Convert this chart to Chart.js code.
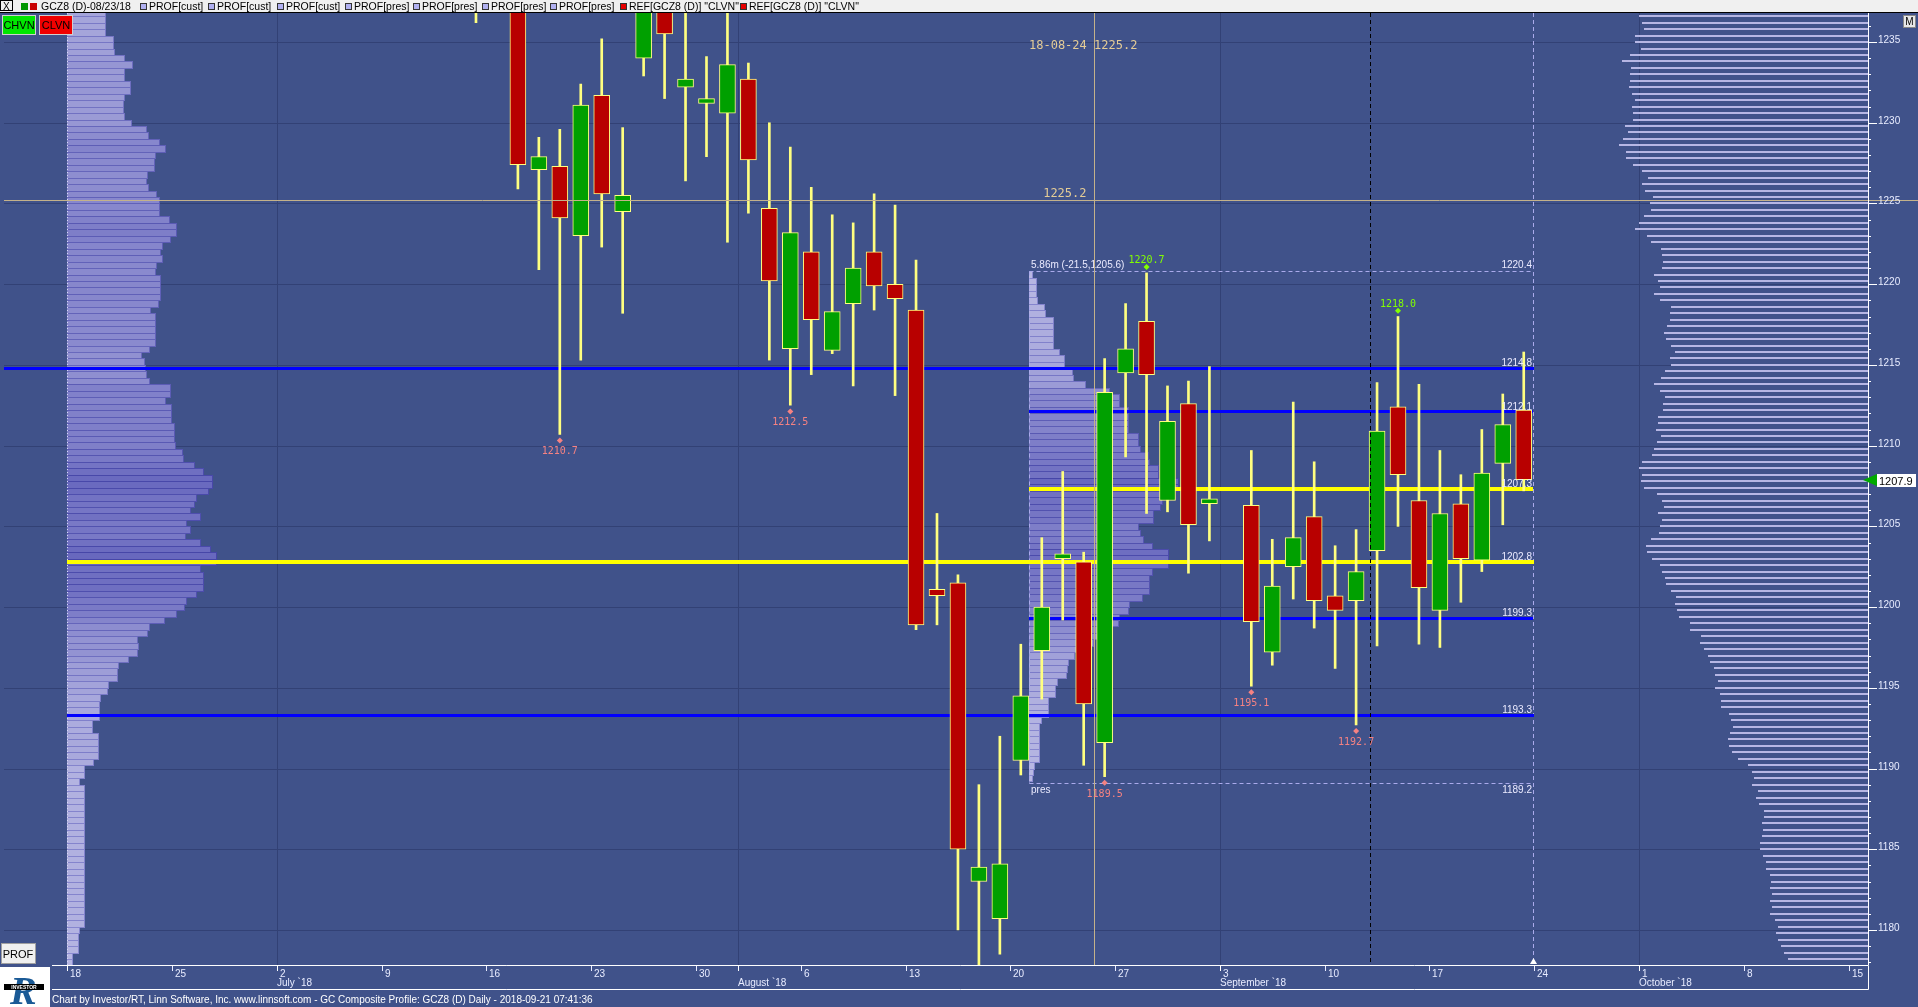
<!DOCTYPE html>
<html lang="en">
<head>
<meta charset="UTF-8">
<title>GCZ8 Composite Profile</title>
<script src="https://cdn.jsdelivr.net/npm/chart.js"></script>
<style>
  html, body { margin: 0; padding: 0; background: rgb(64, 82, 138); overflow: hidden; }
  canvas { display: block; }
</style>
</head>
<body>
<canvas id="chart" width="1918" height="1007"></canvas>
<script>
// ---- daily bars GCZ8 (D) ----
const dates = ['2018-07-13','2018-07-16','2018-07-17','2018-07-18','2018-07-19','2018-07-20',
  '2018-07-23','2018-07-24','2018-07-25','2018-07-26','2018-07-27','2018-07-30','2018-07-31',
  '2018-08-01','2018-08-02','2018-08-03','2018-08-06','2018-08-07','2018-08-08','2018-08-09',
  '2018-08-10','2018-08-13','2018-08-14','2018-08-15','2018-08-16','2018-08-17','2018-08-20',
  '2018-08-21','2018-08-22','2018-08-23','2018-08-24','2018-08-27','2018-08-28','2018-08-29',
  '2018-08-30','2018-08-31','2018-09-04','2018-09-05','2018-09-06','2018-09-07','2018-09-10',
  '2018-09-11','2018-09-12','2018-09-13','2018-09-14','2018-09-17','2018-09-18','2018-09-19',
  '2018-09-20','2018-09-21'];
const opens = [1241.5,1242.0,1240.5,1227.1,1227.3,1223.0,1231.7,1224.5,1234.0,1238.5,1232.2,1231.2,1230.6,
  1232.7,1224.7,1216.0,1222.0,1215.9,1218.8,1222.0,1220.0,1218.4,1201.1,1201.5,1183.0,1180.7,1190.5,
  1197.3,1203.0,1202.8,1191.6,1214.5,1217.7,1206.6,1212.6,1206.4,1206.3,1197.2,1202.5,1205.6,1200.7,
  1200.4,1203.5,1212.4,1206.6,1199.8,1206.4,1202.9,1208.9,1212.2];
const highs = [1243.0,1244.0,1243.5,1229.1,1229.6,1232.4,1235.2,1229.7,1239.5,1239.8,1237.5,1234.1,1237.4,
  1233.7,1230.0,1228.5,1226.0,1224.3,1223.8,1225.6,1224.9,1221.5,1205.8,1202.0,1189.0,1192.0,1197.7,
  1204.3,1208.4,1203.4,1215.4,1218.8,1220.7,1213.7,1214.0,1214.9,1209.7,1204.2,1212.7,1209.0,1203.8,
  1204.8,1213.9,1218.0,1213.8,1209.7,1208.2,1211.0,1213.2,1215.8];
const lows = [1236.2,1238.4,1225.9,1220.9,1210.7,1215.3,1222.3,1218.2,1232.9,1231.5,1226.4,1227.9,1222.6,
  1224.4,1215.3,1212.5,1214.4,1215.7,1213.7,1218.4,1213.1,1198.6,1198.9,1180.0,1177.8,1178.5,1189.6,
  1194.3,1199.2,1190.2,1189.5,1209.3,1205.8,1205.9,1202.1,1204.1,1195.1,1196.4,1200.5,1198.7,1196.2,
  1192.7,1197.6,1205.0,1197.7,1197.5,1200.3,1202.2,1205.1,1207.2];
const closes = [1240.8,1240.0,1227.4,1227.9,1224.1,1231.1,1225.6,1225.5,1238.0,1235.5,1232.7,1231.5,1233.6,
  1227.7,1220.2,1223.2,1217.8,1218.3,1221.0,1219.9,1219.1,1198.9,1200.7,1185.0,1183.9,1184.1,1194.5,
  1200.0,1203.3,1194.0,1213.3,1216.0,1214.4,1211.5,1205.1,1206.7,1199.1,1201.3,1204.3,1200.4,1199.8,
  1202.2,1210.9,1208.2,1201.2,1205.8,1203.0,1208.3,1211.3,1207.9];

// swing highs / lows that are labelled
const lowMarkDates = ['2018-07-19','2018-08-03','2018-08-24','2018-09-04','2018-09-11'];
const highMarkDates = ['2018-08-28','2018-09-13'];

// ---- composite profile (left), price rows of 0.4 from the top ----
const compTop = 1236.8;
const compVol = [38,38,38,38,46,46,47,57,65,57, 57,63,63,57,56,56,57,64,79,81,
  92,98,88,87,87,80,79,81,89,92, 92,92,102,109,109,103,95,93,95,89,
  88,93,93,93,93,91,83,88,88,88, 88,88,82,74,77,78,79,82,103,103,
  98,104,104,104,107,107,107,108,115,116, 127,136,145,145,141,129,127,123,133,119,
  123,118,133,143,149,149,133,136,136,136, 129,119,117,109,97,82,80,70,71,70,
  61,51,50,50,41,40,33,32,32,32, 25,25,31,31,31,31,26,17,17,12,
  17,17,17,17,17,17,17,17,17,17,17,17,17,17,17,17,17,17,17,17,17,17,
  12,11,11,11,5,5];

// ---- "pres" profile 2018-08-20 .. 2018-09-21 ----
const presTop = 1220.6;
const presVol = [3,7,7,7,8,15,16,24,24,24, 24,24,30,35,35,43,44,56,80,90,
  90,99,99,99,99,109,109,111,119,120, 129,129,149,149,133,133,131,124,124,109,
  111,114,123,139,139,139,123,120,120,120, 113,100,99,90,89,82,75,64,55,45,
  39,38,37,28,26,26,19,19,19,12, 10,10,10,10,10,10,5,4,3];
const presFirst = '2018-08-20';
const presLast = '2018-09-21';
const presBoxHigh = 1220.8;
const presBoxLow = 1189.1;
const presText = ['5.86m (-21.5,1205.6)', 'pres', '1220.4', '1189.2'];

// ---- right hand profile ----
const rightTop = 1236.6;
const rightVol = [229,226,224,234,233,227,239,247,238,239, 239,240,237,233,237,236,236,244,241,246,
  250,243,243,236,226,220,226,223,215,218, 217,224,229,233,221,217,207,206,205,206,
  214,210,208,214,208,197,198,198,201,204, 202,197,193,198,197,203,207,214,208,203,
  205,205,210,210,212,207,211,214,216,226, 229,226,227,224,211,206,204,210,206,208,
  209,217,222,221,216,208,206,203,202,197, 192,193,191,189,178,178,167,168,164,160,
  158,154,153,150,153,148,147,147,139,137, 135,138,140,139,136,130,120,116,114,116,
  110,112,109,104,104,106,105,106,108,108, 105,102,102,98,97,98,96,98,96,98,
  93,90,92,90,87,84,80];

// ---- reference levels ----
const levelPrices = [1214.8, 1212.1, 1207.3, 1202.8, 1199.3, 1193.3];
const levelKinds = ['CLVN', 'CLVN', 'POC', 'POC', 'CLVN', 'CLVN'];
const levelFrom = ['edge', 'pres', 'pres', 'comp', 'pres', 'comp'];

// ---- cursor ----
const cursorDate = '2018-08-24';
const cursorPrice = 1225.2;
const lastPrice = 1207.9;

// ---- axis labels ----
const weekLabels = ['18','25','2','9','16','23','30','6','13','20','27','3','10','17','24','1','8','15'];
const monthStarts = ['2018-07-02','2018-08-01','2018-09-03','2018-10-01'];
const monthLabels = ['July `18','August `18','September `18','October `18'];
const legendItems = ['PROF[cust]','PROF[cust]','PROF[cust]','PROF[pres]','PROF[pres]','PROF[pres]','PROF[pres]',
  'REF[GCZ8 (D)] "CLVN"','REF[GCZ8 (D)] "CLVN"'];
const footer = 'Chart by Investor/RT, Linn Software, Inc. www.linnsoft.com - GC Composite Profile: GCZ8 (D) Daily - 2018-09-21 07:41:36';

// trading day index (weekdays) counted from 2018-06-18
function dayIndex(s) {
  const p = s.split('-').map(Number);
  const t = Date.UTC(p[0], p[1] - 1, p[2]);
  let n = 0;
  for (let u = Date.UTC(2018, 5, 18); u < t; u += 86400000) {
    const wd = new Date(u).getUTCDay();
    if (wd !== 0 && wd !== 6) n++;
  }
  return n;
}

const BG = 'rgb(64, 82, 138)';
const GRID = 'rgb(50, 65, 117)';
const UP = 'rgb(0, 160, 0)';
const DOWN = 'rgb(184, 0, 0)';
const WICK = 'rgb(255, 255, 128)';
const ROW = 0.4;
const VOL_PER_DAY = 21;
const SANS = '"Liberation Sans", Arial, sans-serif';
const MONO = '"DejaVu Sans Mono", monospace';

const xi = dates.map(dayIndex);
const bodies = dates.map((d, k) => ({ x: xi[k], y: [opens[k], closes[k]] }));
const wicks = dates.map((d, k) => ({ x: xi[k], y: [lows[k], highs[k]] }));
const bodyColors = dates.map((d, k) => closes[k] >= opens[k] ? UP : DOWN);
const lowMarks = lowMarkDates.map(d => ({ x: dayIndex(d), y: lows[dates.indexOf(d)] - 0.38 }));
const highMarks = highMarkDates.map(d => ({ x: dayIndex(d), y: highs[dates.indexOf(d)] + 0.36 }));

const compBase = -0.524;
const presBase = dayIndex(presFirst) + 0.41;
const presEnd = dayIndex(presLast) + 0.43;

function mix(a, b, t) {
  return 'rgb(' + a.map((v, i) => Math.round(v + (b[i] - v) * t)).join(',') + ')';
}

function text(c, s, x, y, color, font, align) {
  c.fillStyle = color;
  c.font = font;
  c.textAlign = align || 'left';
  c.textBaseline = 'alphabetic';
  c.fillText(s, x, y);
}

const chrome = {
  id: 'chrome',
  beforeDraw(chart) {
    const c = chart.ctx;
    c.save();
    c.fillStyle = BG;
    c.fillRect(0, 0, chart.width, chart.height);
    c.restore();
  },
  beforeDatasetsDraw(chart) {
    const c = chart.ctx, a = chart.chartArea, X = chart.scales.x, Y = chart.scales.y;
    c.save();
    // grid
    c.fillStyle = GRID;
    for (let v = 1180; v <= 1235; v += 5) {
      c.fillRect(a.left, Math.round(Y.getPixelForValue(v)), a.right - a.left, 1);
    }
    monthStarts.forEach(d => {
      c.fillRect(Math.round(X.getPixelForValue(dayIndex(d) - 0.5)), a.top, 1, a.bottom - a.top);
    });

    // volume profiles
    function profile(vols, top, base) {
      const max = Math.max(...vols);
      const x0 = Math.round(X.getPixelForValue(base));
      vols.forEach((vol, k) => {
        const v = top - k * ROW;
        const y0 = Math.round(Y.getPixelForValue(v + ROW / 2));
        const y1 = Math.round(Y.getPixelForValue(v - ROW / 2));
        const x1 = Math.round(X.getPixelForValue(base + vol / VOL_PER_DAY));
        const t = vol / max;
        c.fillStyle = mix([140, 140, 210], [70, 70, 168], t);
        c.fillRect(x0, y0, x1 - x0 + 1, y1 - y0 + 1);
        c.fillStyle = mix([186, 186, 228], [104, 104, 190], t);
        c.fillRect(x0, y0 + 1, x1 - x0, y1 - y0 - 1);
      });
    }
    profile(compVol, compTop, compBase);
    profile(presVol, presTop, presBase);

    // right profile as thin rows
    c.fillStyle = 'rgb(182, 182, 228)';
    rightVol.forEach((vol, k) => {
      const yy = Math.round(Y.getPixelForValue(rightTop - k * ROW));
      const x1 = Math.round(X.getPixelForValue(X.max - vol / VOL_PER_DAY));
      c.fillRect(x1, yy - 1, a.right - x1, 2);
    });

    // dotted base of composite profile
    c.fillStyle = 'rgb(215, 215, 245)';
    const bx = Math.round(X.getPixelForValue(compBase));
    for (let y = a.top; y < a.bottom; y += 3) c.fillRect(bx, y, 1, 1);

    // pres box
    const px0 = Math.round(X.getPixelForValue(presBase)) + 0.5;
    const px1 = Math.round(X.getPixelForValue(presEnd)) + 0.5;
    const yTop = Math.round(Y.getPixelForValue(presBoxHigh)) + 0.5;
    const yBot = Math.round(Y.getPixelForValue(presBoxLow)) + 0.5;
    c.strokeStyle = 'rgb(170, 170, 235)';
    c.lineWidth = 1;
    c.setLineDash([4, 3]);
    c.beginPath();
    c.moveTo(px0, yTop); c.lineTo(px1, yTop);
    c.moveTo(px0, yBot); c.lineTo(px1, yBot);
    c.moveTo(px0, yTop); c.lineTo(px0, yBot);
    c.moveTo(px1, a.top); c.lineTo(px1, a.bottom);
    c.stroke();
    c.setLineDash([]);

    // levels
    levelPrices.forEach((p, k) => {
      const from = levelFrom[k] === 'edge' ? a.left : X.getPixelForValue(levelFrom[k] === 'pres' ? presBase : compBase);
      const yy = Y.getPixelForValue(p);
      const poc = levelKinds[k] === 'POC';
      const w = poc ? 4 : 3;
      c.fillStyle = poc ? 'rgb(255, 255, 0)' : 'rgb(0, 0, 255)';
      c.fillRect(Math.round(from), Math.round(yy - w / 2), Math.round(px1 - from), w);
    });
    c.restore();
  },
  afterDatasetsDraw(chart) {
    const c = chart.ctx, a = chart.chartArea, X = chart.scales.x, Y = chart.scales.y;
    const W = chart.width;
    c.save();
    const px0 = Math.round(X.getPixelForValue(presBase));
    const px1 = Math.round(X.getPixelForValue(presEnd));

    // level labels
    levelPrices.forEach(p => {
      text(c, p.toFixed(1), px1 - 1, Math.round(Y.getPixelForValue(p)) - 2, 'rgb(235, 235, 255)', '10px ' + SANS, 'right');
    });
    const yTop = Math.round(Y.getPixelForValue(presBoxHigh));
    const yBot = Math.round(Y.getPixelForValue(presBoxLow));
    text(c, presText[0], px0 + 2, yTop - 3, 'rgb(235, 235, 255)', '10px ' + SANS);
    text(c, presText[2], px1 - 1, yTop - 3, 'rgb(235, 235, 255)', '10px ' + SANS, 'right');
    text(c, presText[1], px0 + 2, yBot + 10, 'rgb(235, 235, 255)', '10px ' + SANS);
    text(c, presText[3], px1 - 1, yBot + 10, 'rgb(235, 235, 255)', '10px ' + SANS, 'right');

    // cursor cross hair
    const cx = Math.round(X.getPixelForValue(dayIndex(cursorDate) - 0.52)) + 0.5;
    const cy = Math.round(Y.getPixelForValue(cursorPrice)) + 0.5;
    c.strokeStyle = 'rgb(196, 178, 138)';
    c.lineWidth = 1;
    c.beginPath();
    c.moveTo(cx, a.top); c.lineTo(cx, a.bottom);
    c.moveTo(a.left, cy); c.lineTo(W, cy);
    c.stroke();
    text(c, '18-08-24 ' + cursorPrice.toFixed(1), px0, 49, 'rgb(228, 204, 150)', '12px ' + MONO);
    text(c, cursorPrice.toFixed(1), cx - 8, cy - 4, 'rgb(228, 204, 150)', '12px ' + MONO, 'right');

    // black dashed session marker
    const dx = Math.round(X.getPixelForValue(dayIndex('2018-09-12') - 0.35)) + 0.5;
    c.strokeStyle = '#000';
    c.setLineDash([4, 3]);
    c.beginPath();
    c.moveTo(dx, a.top); c.lineTo(dx, a.bottom);
    c.stroke();
    c.setLineDash([]);

    // swing labels
    lowMarkDates.forEach(d => {
      const k = dates.indexOf(d);
      text(c, lows[k].toFixed(1), X.getPixelForValue(xi[k]), Y.getPixelForValue(lows[k]) + 20, 'rgb(245, 130, 130)', '10px ' + MONO, 'center');
    });
    highMarkDates.forEach(d => {
      const k = dates.indexOf(d);
      text(c, highs[k].toFixed(1), X.getPixelForValue(xi[k]), Y.getPixelForValue(highs[k]) - 10, 'rgb(130, 255, 0)', '10px ' + MONO, 'center');
    });

    // right axis
    c.fillStyle = BG;
    c.fillRect(a.right + 1, a.top, W - a.right - 1, a.bottom - a.top);
    c.fillStyle = 'rgb(196, 178, 138)';
    c.fillRect(a.right, Math.round(Y.getPixelForValue(cursorPrice)), W - a.right, 1);
    c.fillStyle = '#fff';
    c.fillRect(a.right, a.top, 1, a.bottom - a.top);
    for (let v = 1178; v <= 1236; v++) {
      const yy = Math.round(Y.getPixelForValue(v));
      const major = v % 5 === 0;
      c.fillStyle = '#fff';
      c.fillRect(a.right, yy, major ? 9 : 3, 1);
      if (major) text(c, String(v), a.right + 10, yy + 1, 'rgb(232, 236, 255)', '10px ' + SANS);
    }
    // last price tag
    const ly = Math.round(Y.getPixelForValue(lastPrice));
    c.fillStyle = 'rgb(0, 170, 0)';
    c.beginPath();
    c.moveTo(a.right - 5, ly); c.lineTo(a.right + 9, ly - 6); c.lineTo(a.right + 9, ly + 6);
    c.closePath(); c.fill();
    c.fillStyle = '#fff';
    c.fillRect(a.right + 9, ly - 6, 39, 13);
    text(c, lastPrice.toFixed(1), a.right + 11, ly + 5, '#000', '11px ' + SANS);
    // M button
    c.fillStyle = '#e8e8e8';
    c.fillRect(W - 15, a.top + 2, 13, 13);
    c.strokeStyle = '#888';
    c.strokeRect(W - 14.5, a.top + 2.5, 12, 12);
    text(c, 'M', W - 8.5, a.top + 12, '#000', '10px ' + SANS, 'center');

    // bottom axis
    c.fillStyle = BG;
    c.fillRect(0, a.bottom + 1, W, chart.height - a.bottom - 1);
    c.strokeStyle = '#fff';
    c.beginPath();
    c.moveTo(52, a.bottom + 0.5); c.lineTo(a.right + 0.5, a.bottom + 0.5);
    c.lineTo(a.right + 0.5, a.bottom + 24.5); c.lineTo(52, a.bottom + 24.5);
    c.stroke();
    c.fillStyle = '#fff';
    weekLabels.forEach((lab, k) => {
      const tx = Math.round(X.getPixelForValue(k * 5 - 0.5));
      c.fillRect(tx, a.bottom + 1, 1, 5);
      text(c, lab, tx + 3, a.bottom + 12, 'rgb(232, 236, 255)', '10px ' + SANS);
    });
    monthStarts.forEach((d, k) => {
      const tx = Math.round(X.getPixelForValue(dayIndex(d) - 0.5));
      c.fillStyle = '#fff';
      c.fillRect(tx, a.bottom + 1, 1, 5);
      text(c, monthLabels[k], tx, a.bottom + 21, 'rgb(232, 236, 255)', '10px ' + SANS);
    });
    // end-of-data marker
    c.fillStyle = '#fff';
    c.beginPath();
    c.moveTo(px1 + 0.5, a.bottom - 7); c.lineTo(px1 + 4, a.bottom - 1); c.lineTo(px1 - 3, a.bottom - 1);
    c.closePath(); c.fill();

    // footer + logo
    text(c, footer, 52, chart.height - 4, '#fff', '10px ' + SANS);
    c.fillStyle = '#fff';
    c.fillRect(0, a.bottom + 2, 50, chart.height - a.bottom - 2);
    text(c, 'R', 10, chart.height - 3, 'rgb(26, 90, 150)', 'bold italic 40px "Liberation Serif", serif');
    c.fillStyle = '#000';
    c.fillRect(4, chart.height - 23, 40, 6);
    text(c, 'INVESTOR', 24, chart.height - 18, '#fff', 'bold 5px ' + SANS, 'center');

    // PROF button
    c.fillStyle = '#f0f0f0';
    c.fillRect(1, a.bottom - 22, 35, 21);
    c.strokeStyle = '#a0a0a0';
    c.strokeRect(1.5, a.bottom - 21.5, 34, 20);
    text(c, 'PROF', 18, a.bottom - 7, '#000', '11px ' + SANS, 'center');

    // CHVN / CLVN buttons
    c.fillStyle = 'rgb(0, 230, 0)';
    c.fillRect(2, a.top + 2, 34, 20);
    c.fillStyle = 'rgb(240, 0, 0)';
    c.fillRect(39, a.top + 2, 34, 20);
    c.strokeStyle = '#d0d0d0';
    c.strokeRect(2.5, a.top + 2.5, 33, 19);
    c.strokeRect(39.5, a.top + 2.5, 33, 19);
    text(c, 'CHVN', 19, a.top + 16, '#000', '11px ' + SANS, 'center');
    text(c, 'CLVN', 56, a.top + 16, '#000', '11px ' + SANS, 'center');

    // top legend bar
    c.fillStyle = '#f0f0f0';
    c.fillRect(0, 0, W, a.top - 1);
    c.fillStyle = '#000';
    c.fillRect(0, a.top - 1, W, 1);
    c.strokeStyle = '#000';
    c.strokeRect(0.5, 0.5, 12, 10);
    text(c, 'X', 3, 10, '#000', '10px ' + SANS);
    c.fillStyle = 'rgb(0, 150, 0)'; c.fillRect(21, 3, 7, 7);
    c.fillStyle = 'rgb(200, 0, 0)'; c.fillRect(30, 3, 7, 7);
    text(c, 'GCZ8 (D)-08/23/18', 41, 10, '#000', '10.5px ' + SANS);
    const legendX = [140, 208, 277, 345, 413, 482, 550, 620, 740];
    legendItems.forEach((s, k) => {
      const lx = legendX[k];
      const isRef = s.startsWith('REF');
      c.fillStyle = isRef ? 'rgb(230, 0, 0)' : 'rgb(176, 176, 240)';
      c.fillRect(lx, 3, 7, 7);
      c.strokeStyle = '#333';
      c.strokeRect(lx + 0.5, 3.5, 6, 6);
      text(c, s, lx + 9, 10, '#000', '10.5px ' + SANS);
    });
    c.restore();
  }
};

new Chart(document.getElementById('chart'), {
  type: 'bar',
  data: {
    datasets: [
      { label: 'marks low', type: 'scatter', data: lowMarks, pointStyle: 'rectRot', pointRadius: 3,
        backgroundColor: 'rgb(245, 130, 130)', borderWidth: 0, order: 0, clip: 0 },
      { label: 'marks high', type: 'scatter', data: highMarks, pointStyle: 'rectRot', pointRadius: 3,
        backgroundColor: 'rgb(130, 255, 0)', borderWidth: 0, order: 0, clip: 0 },
      { label: 'body', data: bodies, backgroundColor: bodyColors, borderColor: WICK, borderWidth: 1,
        borderSkipped: false, barThickness: 16, grouped: false, order: 1, clip: 0 },
      { label: 'wick', data: wicks, backgroundColor: WICK, borderWidth: 0,
        barThickness: 2, grouped: false, order: 2, clip: 0 }
    ]
  },
  options: {
    responsive: false,
    animation: false,
    devicePixelRatio: 1,
    events: [],
    layout: { padding: { left: 0, right: 50, top: 13, bottom: 42 } },
    plugins: { legend: { display: false }, tooltip: { enabled: false } },
    scales: {
      x: { type: 'linear', offset: false, min: -74 / 21, max: (1868 - 74) / 21, display: false },
      y: { type: 'linear', min: 1177.83, max: 1236.8, display: false }
    }
  },
  plugins: [chrome]
});
</script>
</body>
</html>
